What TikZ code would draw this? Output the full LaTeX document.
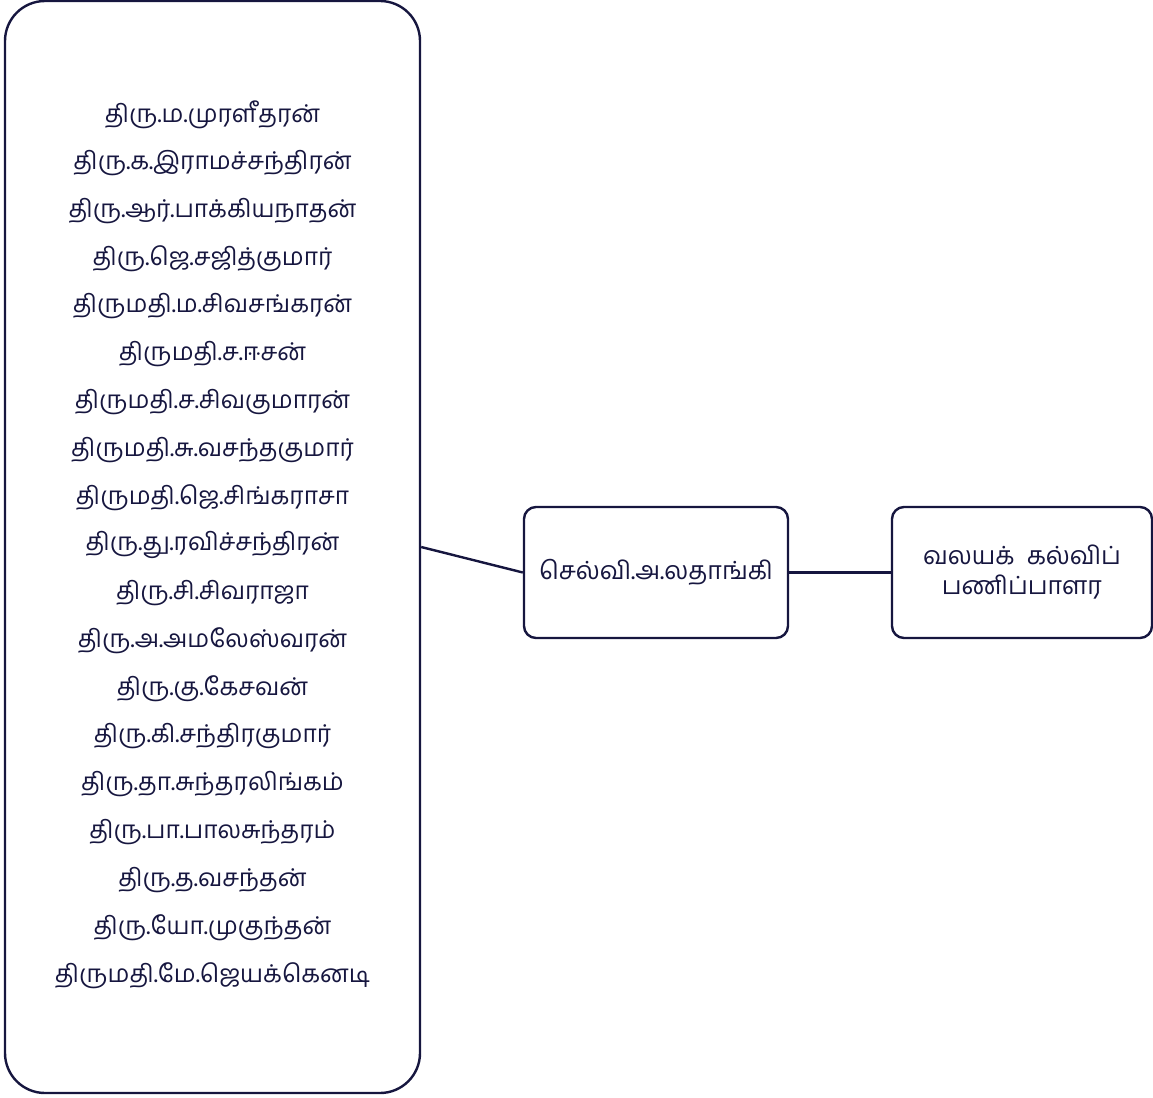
\documentclass[tikz,border=0pt]{standalone}
\usepackage{fontspec}
\newfontfamily\tamil[Script=Tamil]{Hind Madurai}
\definecolor{navy}{HTML}{16163F}
\begin{document}
\begin{tikzpicture}[x=1pt,y=-1pt,
  roundbox/.style={draw=navy, line width=2.4pt, rounded corners=#1, inner sep=0pt},
  roundbox/.default=12pt,
  person/.style={text=navy, font=\tamil\fontsize{24.5}{28}\selectfont, anchor=center, inner sep=0pt},
  lbl/.style={text=navy, font=\tamil\fontsize{25}{30}\selectfont, align=center, inner sep=0pt},
  conn/.style={draw=navy, line width=2.4pt}]
\useasboundingbox (0,0) rectangle (1153,1097);
\node[roundbox=40pt, minimum width=415pt, minimum height=1092pt] (L) at (212.5,547) {};
\node[roundbox, minimum width=264pt, minimum height=131pt] (M) at (656,572.5) {};
\node[roundbox, minimum width=260pt, minimum height=131pt] (R) at (1022,572.5) {};
\foreach \t [count=\i from 0] in {திரு.ம.முரளீதரன், திரு.க.இராமச்சந்திரன், திரு.ஆர்.பாக்கியநாதன், திரு.ஜெ.சஜித்குமார், திருமதி.ம.சிவசங்கரன், திருமதி.ச.ஈசன், திருமதி.ச.சிவகுமாரன், திருமதி.சு.வசந்தகுமார், திருமதி.ஜெ.சிங்கராசா, திரு.து.ரவிச்சந்திரன், திரு.சி.சிவராஜா, திரு.அ.அமலேஸ்வரன், திரு.கு.கேசவன், திரு.கி.சந்திரகுமார், திரு.தா.சுந்தரலிங்கம், திரு.பா.பாலசுந்தரம், திரு.த.வசந்தன், திரு.யோ.முகுந்தன், திருமதி.மே.ஜெயக்கெனடி}
  \node[person] (n\i) at (212.5, 115+47.8*\i) {\t};
\node[lbl] (mt) at (M.center) {செல்வி.அ.லதாங்கி};
\node[lbl] (rt) at (R.center) {வலயக்\ \ கல்விப்\\பணிப்பாளர};
\draw[conn] (L.east) -- (M.west);
\draw[conn] (M.east) -- (R.west);
\end{tikzpicture}
\end{document}
